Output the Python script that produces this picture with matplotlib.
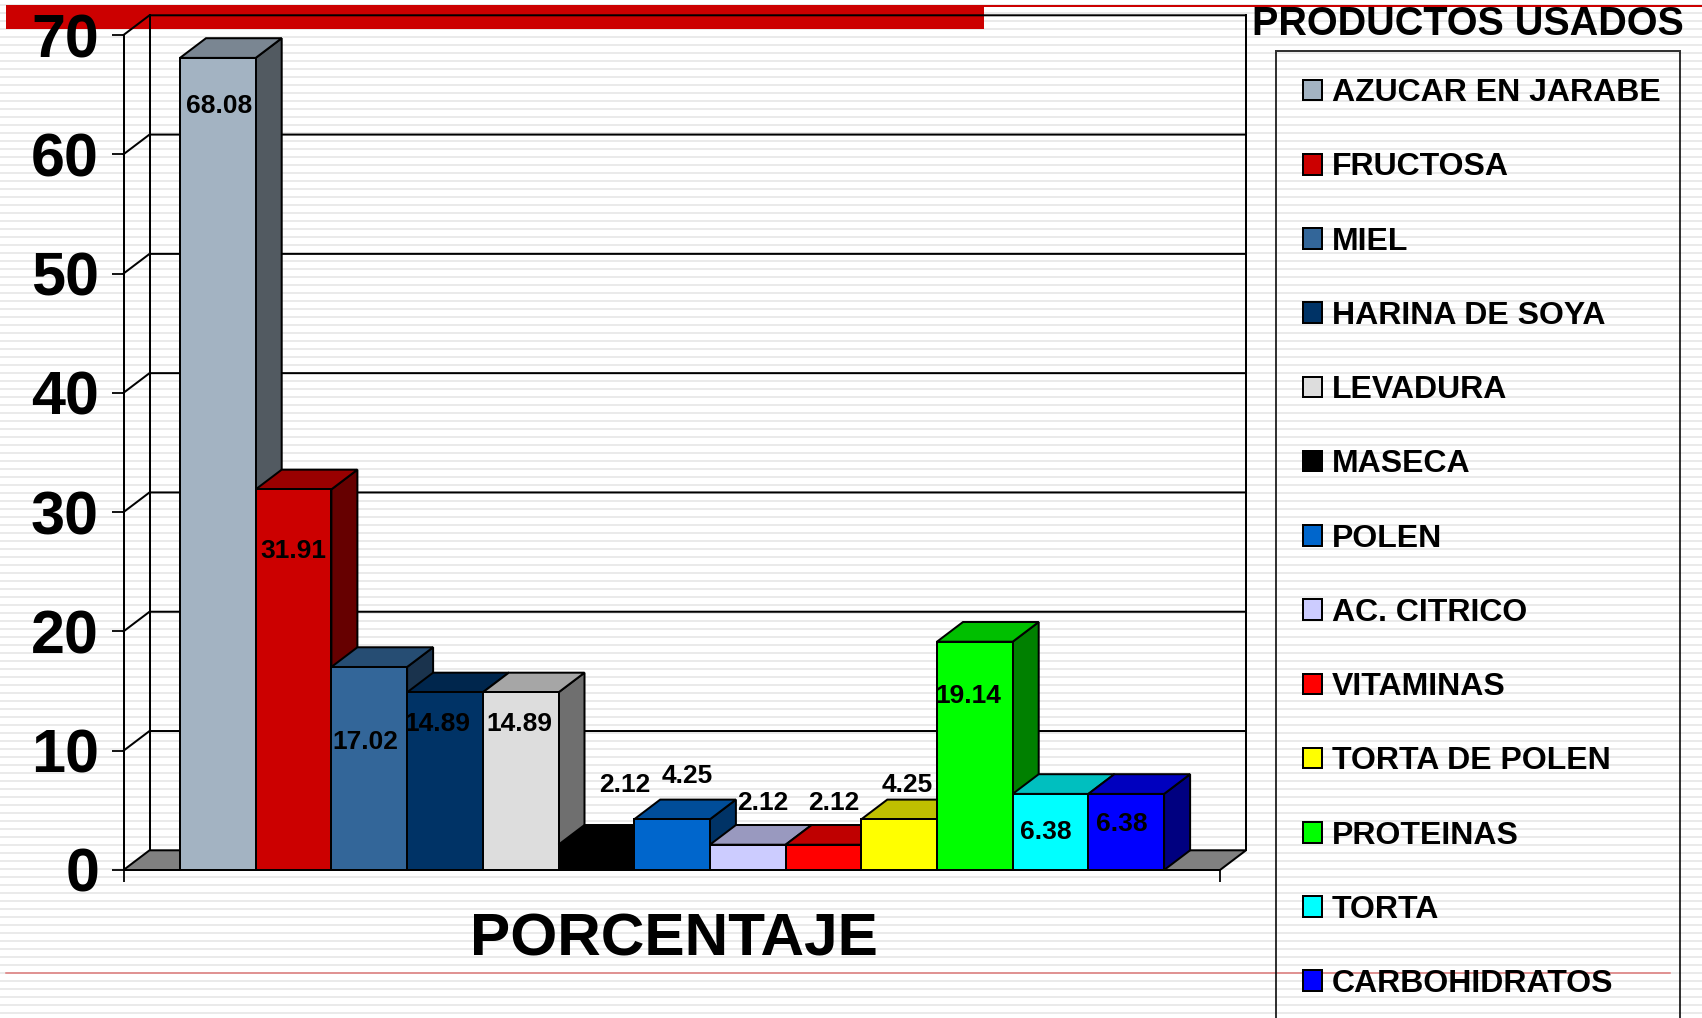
import numpy as np
import matplotlib
matplotlib.use('Agg')
import matplotlib.pyplot as plt
from matplotlib.colors import to_rgb
from matplotlib.patches import Patch, Polygon

plt.rcParams['font.family'] = ['Liberation Sans', 'DejaVu Sans']
plt.rcParams['font.weight'] = 'bold'

productos = ['AZUCAR EN JARABE', 'FRUCTOSA', 'MIEL', 'HARINA DE SOYA', 'LEVADURA', 'MASECA', 'POLEN',
             'AC. CITRICO', 'VITAMINAS', 'TORTA DE POLEN', 'PROTEINAS', 'TORTA', 'CARBOHIDRATOS']
porcentaje = [68.08, 31.91, 17.02, 14.89, 14.89, 2.12, 4.25, 2.12, 2.12, 4.25, 19.14, 6.38, 6.38]
colores = ['#A3B3C2', '#CC0000', '#336699', '#003366', '#DDDDDD', '#000000', '#0066CC',
           '#CCCCFF', '#FF0000', '#FFFF00', '#00FF00', '#00FFFF', '#0000FF']
y_ticks = [0, 10, 20, 30, 40, 50, 60, 70]

# label offset from top centre of each bar, in pixels
label_dx = [1, 0, -4, -8, -1, 28, 15, 15, 10, 8, -7, -5, -4]
label_dy = [-48, -62, -75, -32, -32, 60, 43, 42, 42, 34, -54, -38, -30]

W, H = 1702, 1018
PX = 72 / 100  # points per pixel

fig = plt.figure(figsize=(W / 100, H / 100), dpi=100, facecolor='white')

# slide background, in pixel coords
bg = fig.add_axes([0, 0, 1, 1], zorder=0)
bg.set_xlim(0, W)
bg.set_ylim(H, 0)
bg.axis('off')
for y in np.arange(5.3, H, 8):
    bg.axhline(y, color='#e4e4e4', lw=1.5 * PX, zorder=1)
bg.fill_between([6, 984], 5, 29, color='#CC0000', lw=0, zorder=2)
bg.plot([984, W], [6, 6], color='#CC0000', lw=2 * PX, zorder=2)
bg.plot([6, 1670], [973, 973], color='#DD7777', lw=1.5 * PX, zorder=2)

# front plane of the 3D chart
left, right, top, bottom = 123.5, 1220, 35, 870
ax = fig.add_axes([left / W, 1 - bottom / H, (right - left) / W, (bottom - top) / H], zorder=1)
ax.patch.set_alpha(0)
bar_px = 75.7
xl = -0.5 - (180 - left) / bar_px
ax.set_xlim(xl, xl + (right - left) / bar_px)
ax.set_ylim(0, 70)
for s in ['top', 'right']:
    ax.spines[s].set_visible(False)
for s in ['left', 'bottom']:
    ax.spines[s].set_linewidth(2 * PX)

xlim = ax.get_xlim()
ax.set_xticks(xlim)
ax.set_xticklabels(['', ''])
ax.set_yticks(y_ticks)
ax.tick_params(axis='y', length=12.5 * PX, width=1.8 * PX, pad=12 * PX, labelsize=44)
ax.tick_params(axis='x', length=12 * PX, width=1.8 * PX)

dx = 26 / bar_px
dy = 19.7 / (bottom - top) * 70
LW = 2 * PX

# floor and walls
ax.add_patch(Polygon([(xlim[0], 0), (xlim[0] + dx, dy), (xlim[1] + dx, dy), (xlim[1], 0)],
                     fc='#808080', ec='black', lw=LW, clip_on=False, zorder=1))
ax.plot([xlim[0] + dx] * 2, [dy, 70 + dy], color='black', lw=LW, clip_on=False, zorder=1)
ax.plot([xlim[1] + dx] * 2, [dy, 70 + dy], color='black', lw=LW, clip_on=False, zorder=1)
for t in y_ticks[1:]:
    ax.plot([xlim[0], xlim[0] + dx, xlim[1] + dx], [t, t + dy, t + dy],
            color='black', lw=LW, clip_on=False, zorder=1)

# bars, drawn left to right so each one hides the side of the previous
for i, (v, c) in enumerate(zip(porcentaje, colores)):
    rgb = np.array(to_rgb(c))
    z = 2 + i * 0.1
    l, r = i - 0.5, i + 0.5
    ax.add_patch(Polygon([(r, 0), (r + dx, dy), (r + dx, v + dy), (r, v)],
                         fc=rgb * 0.5, ec='black', lw=LW, clip_on=False, zorder=z))
    ax.add_patch(Polygon([(l, v), (l + dx, v + dy), (r + dx, v + dy), (r, v)],
                         fc=rgb * 0.75, ec='black', lw=LW, clip_on=False, zorder=z))
    ax.bar(i, v, width=1, color=c, edgecolor='black', linewidth=LW, zorder=z)

for i, v in enumerate(porcentaje):
    ax.annotate(f'{v:.2f}', (i, v), xytext=(label_dx[i] * PX, label_dy[i] * PX), textcoords='offset points',
                ha='center', va='center', fontsize=19, color='black', zorder=10)

fig.text(674 / W, 1 - 940 / H, 'PORCENTAJE', ha='center', va='center', fontsize=43.5, zorder=5)
fig.text(1468 / W, 1 - 24 / H, 'PRODUCTOS USADOS', ha='center', va='center', fontsize=28.5, zorder=5)

handles = [Patch(facecolor=c, edgecolor='black', linewidth=LW) for c in colores]
leg = fig.legend(handles, productos, loc='upper left', mode='expand',
                 bbox_to_anchor=(1275.5 / W, 1 - 51 / H - 0.1, (1680 - 1275.5) / W, 0.1),
                 borderaxespad=0, fontsize=23, frameon=True, fancybox=False,
                 edgecolor='black', facecolor='none', borderpad=0.85,
                 handlelength=0.62, handleheight=0.62, handletextpad=0.3, labelspacing=1.385)
leg.get_frame().set_linewidth(LW)
leg.set_zorder(5)

fig.savefig('out.png', dpi=100)
